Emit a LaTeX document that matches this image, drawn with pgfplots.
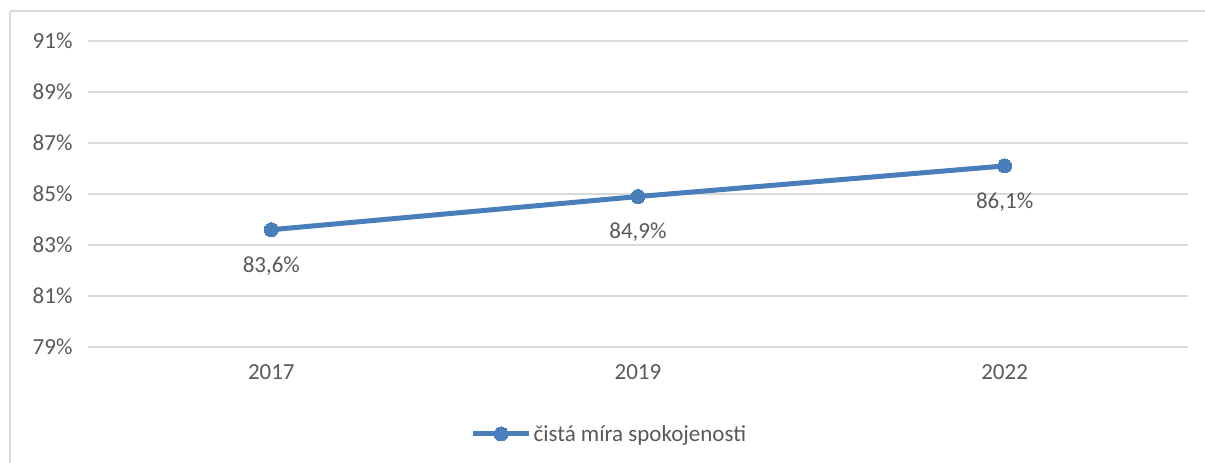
\documentclass[border=0pt]{standalone}
\usepackage{fontspec}
\setmainfont{Carlito}
\usepackage{pgfplots}
\pgfplotsset{compat=1.18}
\definecolor{linec}{RGB}{74,126,187}
\definecolor{gridc}{RGB}{217,217,217}
\definecolor{txtc}{RGB}{89,89,89}
\begin{document}
\begin{tikzpicture}[x=1pt,y=1pt]
\useasboundingbox (0,0) rectangle (1205,463);
\draw[gridc,line width=1.5pt] (10,452) -- (1205,452);
\draw[gridc,line width=1.5pt] (10,452) -- (10,0);
\begin{axis}[
  at={(88pt,116pt)}, anchor=south west,
  scale only axis, width=1100pt, height=306pt,
  xmin=-0.5, xmax=2.5, ymin=79, ymax=91,
  axis line style={draw=none},
  major tick length=0pt,
  xtick={0,1,2}, xticklabels={2017,2019,2022},
  ytick={79,81,83,85,87,89,91},
  yticklabels={79\%,81\%,83\%,85\%,87\%,89\%,91\%},
  ymajorgrids, grid style={gridc,line width=1.5pt},
  /pgf/number format/assume math mode=true,
  tick label style={font=\fontsize{23}{27}\selectfont, text=txtc},
  yticklabel style={xshift=-12pt},
  xticklabel style={yshift=-14pt},
  nodes near coords,
  point meta=explicit symbolic,
  every node near coord/.append style={font=\fontsize{23}{27}\selectfont, text=txtc, anchor=center, yshift=-36pt},
  legend style={at={(0.474,-0.284)}, anchor=center, draw=none, fill=none,
    font=\fontsize{23}{27}\selectfont, text=txtc, inner sep=0pt},
  legend cell align=left,
  legend image code/.code={\draw[mark repeat=2,mark phase=2,#1] plot coordinates {(0pt,0pt) (28pt,0pt) (56pt,0pt)};},
]
\addplot[linec, line width=5pt, mark=*, mark size=7pt, mark options={fill=linec, draw=linec, line width=0pt}]
  coordinates {(0,83.6) [83,6\%] (1,84.9) [84,9\%] (2,86.1) [86,1\%]};
\addlegendentry{čistá míra spokojenosti}
\end{axis}
\end{tikzpicture}
\end{document}
